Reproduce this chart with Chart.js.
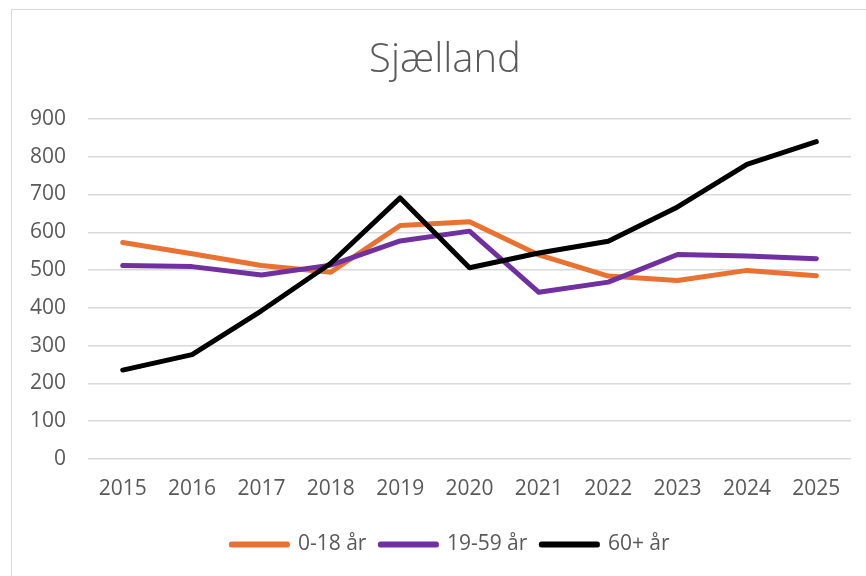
<!DOCTYPE html>
<html>
<head>
<meta charset="utf-8">
<script src="https://cdn.jsdelivr.net/npm/chart.js@4"></script>
<style>
  html, body { margin: 0; padding: 0; background: #fff; overflow: hidden; }
  #ramme { position: absolute; left: 11px; top: 9px; width: 900px; height: 600px; border: 1px solid #d9d9d9; }
  #wrap { position: absolute; left: 0; top: 0; width: 866px; height: 576px; }
</style>
</head>
<body>
<div id="ramme"></div>
<div id="wrap"><canvas id="chartSjaelland" width="866" height="576"></canvas></div>
<script>
// Årstal på x-aksen
const aar = ["2015", "2016", "2017", "2018", "2019", "2020", "2021", "2022", "2023", "2024", "2025"];

// Aflæste værdier pr. aldersgruppe
const boern = [573, 543, 512, 494, 618, 628, 540, 484, 472, 499, 485];
const voksne = [512, 509, 487, 513, 577, 603, 441, 468, 541, 537, 530];
const aeldre = [235, 276, 392, 518, 691, 506, 545, 576, 667, 780, 840];

const serier = ["0-18 år", "19-59 år", "60+ år"];
const farver = ["#E97132", "#7030A0", "#000000"];

const GRAA_TEKST = "#595959";
const FONT = "'Open Sans', 'Liberation Sans', sans-serif";

function lavSerie(navn, data, farve, orden) {
  return {
    label: navn,
    data: data,
    borderColor: farve,
    backgroundColor: farve,
    borderWidth: 5,
    borderCapStyle: "round",
    borderJoinStyle: "round",
    pointRadius: 0,
    pointHoverRadius: 0,
    tension: 0,
    fill: false,
    order: orden
  };
}

// Rykker titel og forklaring lidt mod højre, så de står over plotområdet som i Excel
const flytTekst = {
  id: "flytTekst",
  afterLayout(chart) {
    if (chart.titleBlock) chart.titleBlock.left += 31;
    if (chart.legend) chart.legend.left += 42;
  }
};

const ctx = document.getElementById("chartSjaelland").getContext("2d");

new Chart(ctx, {
  type: "line",
  data: {
    labels: aar,
    datasets: [
      lavSerie(serier[0], boern, farver[0], 3),
      lavSerie(serier[1], voksne, farver[1], 2),
      lavSerie(serier[2], aeldre, farver[2], 1)
    ]
  },
  options: {
    responsive: false,
    animation: false,
    layout: { padding: { left: 8, right: 15, top: 14, bottom: 11 } },
    plugins: {
      title: {
        display: true,
        text: "Sjælland",
        color: GRAA_TEKST,
        font: { family: FONT, size: 40, weight: 300 },
        padding: { top: 23, bottom: 34 }
      },
      legend: {
        position: "bottom",
        labels: {
          color: GRAA_TEKST,
          font: { family: FONT, size: 21 },
          boxWidth: 56,
          boxHeight: 1,
          padding: 14,
          sort: (a, b) => a.datasetIndex - b.datasetIndex
        }
      },
      tooltip: { enabled: false }
    },
    scales: {
      x: {
        offset: true,
        grid: { display: false, drawTicks: false },
        border: { display: false },
        ticks: { color: GRAA_TEKST, font: { family: FONT, size: 21 }, padding: 18, maxRotation: 0 }
      },
      y: {
        min: 0,
        max: 900,
        grid: { color: "#d9d9d9", lineWidth: 1.5, drawTicks: false },
        border: { display: false },
        ticks: { stepSize: 100, color: GRAA_TEKST, font: { family: FONT, size: 21 }, padding: 22 }
      }
    }
  },
  plugins: [flytTekst]
});
</script>
</body>
</html>
